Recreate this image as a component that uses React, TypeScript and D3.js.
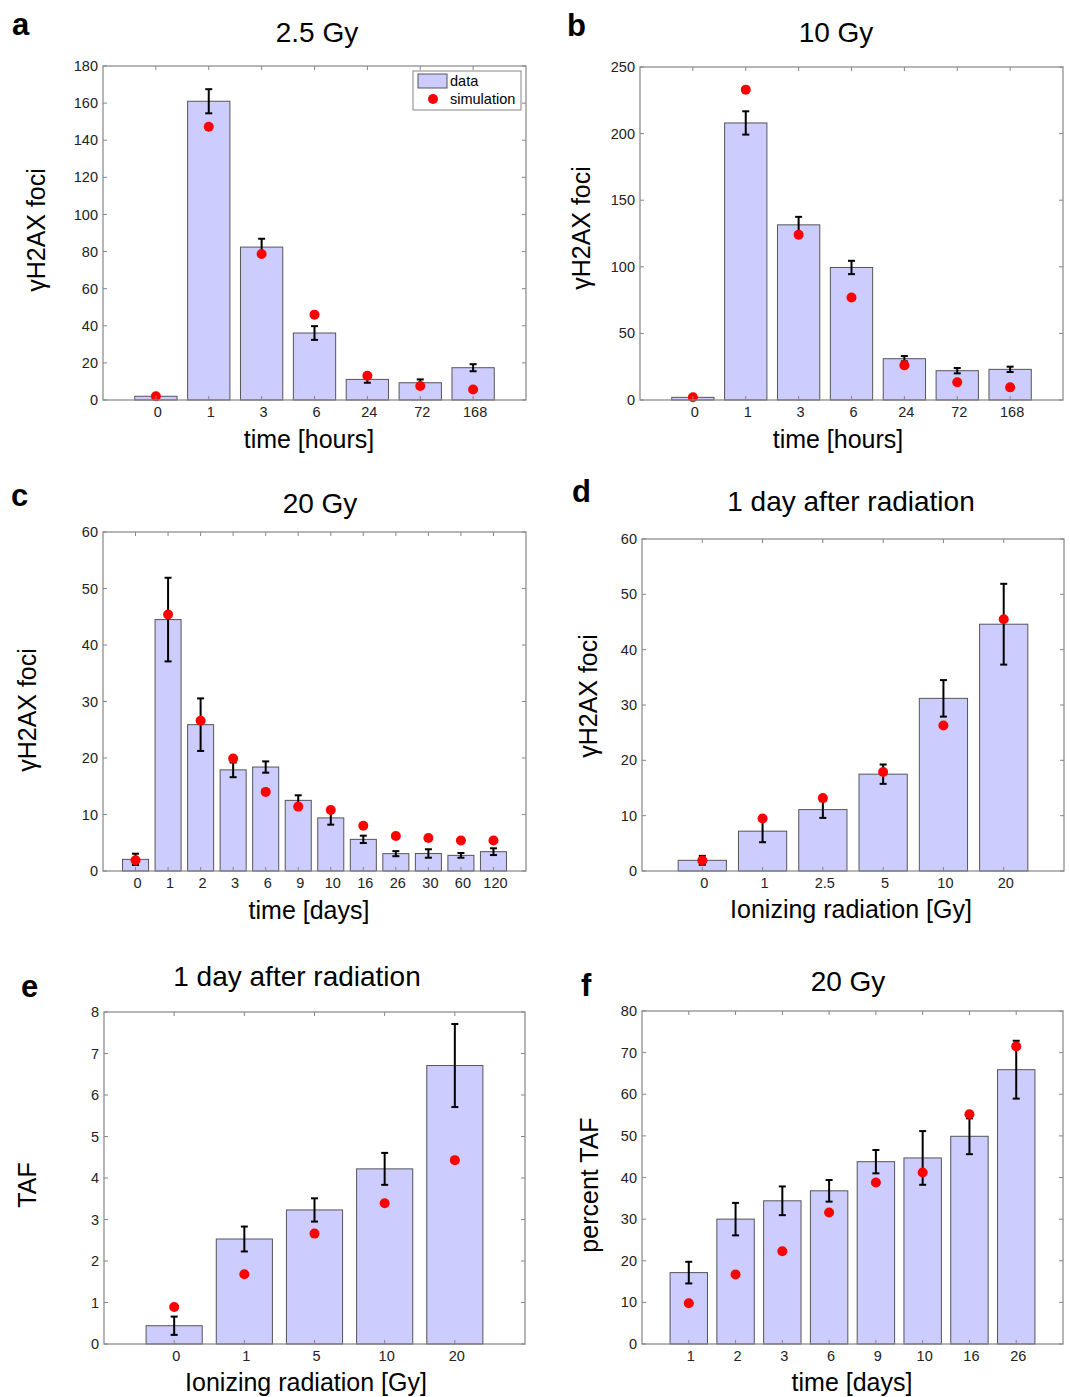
import React from "react";
import * as d3 from "d3";

// panel a: 2.5 Gy, time in hours
const hoursCats = ["0", "1", "3", "6", "24", "72", "168"];
const a_data = [2, 161, 82.4, 36.1, 11.1, 9.3, 17.4];
const a_err = [0, 6.5, 4.5, 3.7, 1.8, 1.8, 1.9];
const a_sim = [2, 147.3, 78.7, 46, 13.1, 7.5, 5.7];

// panel b: 10 Gy, time in hours
const b_data = [2, 208, 131.5, 99.5, 31, 22, 23];
const b_err = [0, 8.75, 6, 5, 2, 2, 2];
const b_sim = [2, 233, 124, 77, 26, 13.3, 9.5];

// panel c: 20 Gy, time in days
const daysCatsC = ["0", "1", "2", "3", "6", "9", "10", "16", "26", "30", "60", "120"];
const c_data = [2.06, 44.5, 25.9, 17.9, 18.4, 12.5, 9.4, 5.6, 3.07, 3.1, 2.77, 3.42];
const c_err = [1, 7.4, 4.65, 1.3, 1.0, 0.9, 1.2, 0.65, 0.45, 0.75, 0.42, 0.6];
const c_sim = [1.9, 45.4, 26.6, 19.9, 14.0, 11.4, 10.8, 8.0, 6.2, 5.85, 5.4, 5.4];

// panel d: foci 1 day after radiation vs dose
const doseCatsD = ["0", "1", "2.5", "5", "10", "20"];
const d_data = [1.93, 7.2, 11.1, 17.5, 31.2, 44.6];
const d_err = [0.8, 2, 1.5, 1.75, 3.3, 7.3];
const d_sim = [1.9, 9.5, 13.2, 17.9, 26.3, 45.5];

// panel e: TAF 1 day after radiation vs dose
const doseCatsE = ["0", "1", "5", "10", "20"];
const e_data = [0.44, 2.53, 3.23, 4.22, 6.71];
const e_err = [0.22, 0.3, 0.28, 0.385, 1.0];
const e_sim = [0.89, 1.68, 2.66, 3.39, 4.43];

// panel f: percent TAF, 20 Gy, days
const daysCatsF = ["1", "2", "3", "6", "9", "10", "16", "26"];
const f_data = [17.15, 30, 34.4, 36.8, 43.8, 44.7, 49.9, 65.9];
const f_err = [2.6, 3.9, 3.45, 2.6, 2.8, 6.45, 4.3, 6.95];
const f_sim = [9.8, 16.7, 22.3, 31.6, 38.8, 41.2, 55.2, 71.5];

const FONT = "'Liberation Sans', Arial, Helvetica, sans-serif";
const AXIS = "#858585";

type PanelProps = {
  letter: string;
  letterPos: [number, number];
  title: string;
  titlePos: [number, number];
  box: { x0: number; x1: number; y0: number; y1: number };
  cats: string[];
  data: number[];
  err: number[];
  sim: number[];
  yMax: number;
  yStep: number;
  ylabel: string;
  ylabelPos: [number, number];
  xlabel: string;
  xlabelPos: [number, number];
  legend?: boolean;
};

const Panel = (p: PanelProps) => {
  const { box } = p;
  const n = p.cats.length;
  const x = d3.scaleLinear().domain([0, n + 1]).range([box.x0, box.x1]);
  const y = d3.scaleLinear().domain([0, p.yMax]).range([box.y1, box.y0]);
  const bw = (x(1) - x(0)) * 0.8;
  const yTicks = d3.range(0, p.yMax + p.yStep / 2, p.yStep);
  const tl = 4;
  const cap = 3.5;

  return (
    <g>
      <text x={p.letterPos[0]} y={p.letterPos[1]} fontSize={31} fontWeight="bold" fontFamily={FONT}>
        {p.letter}
      </text>
      <text x={p.titlePos[0]} y={p.titlePos[1]} fontSize={28} textAnchor="middle" fontFamily={FONT}>
        {p.title}
      </text>

      {/* bars */}
      {p.data.map((v, i) => (
        <rect
          key={"b" + i}
          x={x(i + 1) - bw / 2}
          y={y(v)}
          width={bw}
          height={y(0) - y(v)}
          fill="#ccccff"
          stroke="#555"
          strokeWidth={1}
        />
      ))}

      {/* error bars */}
      {p.data.map((v, i) =>
        p.err[i] > 0 ? (
          <g key={"e" + i} stroke="#000" strokeWidth={2}>
            <line x1={x(i + 1)} x2={x(i + 1)} y1={y(v + p.err[i])} y2={y(v - p.err[i])} />
            <line x1={x(i + 1) - cap} x2={x(i + 1) + cap} y1={y(v + p.err[i])} y2={y(v + p.err[i])} />
            <line x1={x(i + 1) - cap} x2={x(i + 1) + cap} y1={y(v - p.err[i])} y2={y(v - p.err[i])} />
          </g>
        ) : null
      )}

      {/* simulation points */}
      {p.sim.map((v, i) => (
        <circle key={"s" + i} cx={x(i + 1)} cy={y(v)} r={5} fill="#ff0000" />
      ))}

      {/* axes box */}
      <rect x={box.x0} y={box.y0} width={box.x1 - box.x0} height={box.y1 - box.y0} fill="none" stroke={AXIS} strokeWidth={1.2} />

      {/* y ticks */}
      {yTicks.map((t) => (
        <g key={"yt" + t}>
          <line x1={box.x0} x2={box.x0 + tl} y1={y(t)} y2={y(t)} stroke={AXIS} />
          <line x1={box.x1} x2={box.x1 - tl} y1={y(t)} y2={y(t)} stroke={AXIS} />
          <text x={box.x0 - 5} y={y(t)} dy="0.35em" textAnchor="end" fontSize={14.5} fill="#222" fontFamily={FONT}>
            {t}
          </text>
        </g>
      ))}

      {/* x ticks */}
      {p.cats.map((c, i) => (
        <g key={"xt" + i}>
          <line x1={x(i + 1)} x2={x(i + 1)} y1={box.y1} y2={box.y1 - tl} stroke={AXIS} />
          <line x1={x(i + 1)} x2={x(i + 1)} y1={box.y0} y2={box.y0 + tl} stroke={AXIS} />
          <text x={x(i + 1) + 2} y={box.y1 + 17} textAnchor="middle" fontSize={14.5} fill="#222" fontFamily={FONT}>
            {c}
          </text>
        </g>
      ))}

      <text
        transform={`translate(${p.ylabelPos[0]},${p.ylabelPos[1]}) rotate(-90)`}
        textAnchor="middle"
        fontSize={25}
        fontFamily={FONT}
      >
        {p.ylabel}
      </text>
      <text x={p.xlabelPos[0]} y={p.xlabelPos[1]} textAnchor="middle" fontSize={25} fontFamily={FONT}>
        {p.xlabel}
      </text>

      {p.legend && (
        <g fontFamily={FONT} fontSize={14.5}>
          <rect x={413} y={71} width={108} height={39} fill="#fff" stroke={AXIS} />
          <rect x={418} y={74} width={29} height={14} fill="#ccccff" stroke="#555" />
          <text x={450} y={86}>data</text>
          <circle cx={433} cy={99} r={5} fill="#ff0000" />
          <text x={450} y={104}>simulation</text>
        </g>
      )}
    </g>
  );
};

const App = () => {
  return (
    <svg width={1070} height={1397} style={{ position: "absolute", left: 0, top: 0, background: "#fff" }}>
      <rect width={1070} height={1397} fill="#fff" />
      <Panel
        letter="a" letterPos={[12, 35]} title="2.5 Gy" titlePos={[317, 42]}
        box={{ x0: 103, x1: 526, y0: 66, y1: 400 }}
        cats={hoursCats} data={a_data} err={a_err} sim={a_sim} yMax={180} yStep={20}
        ylabel="γH2AX foci" ylabelPos={[45, 230]} xlabel="time [hours]" xlabelPos={[309, 448]}
        legend
      />
      <Panel
        letter="b" letterPos={[567, 36]} title="10 Gy" titlePos={[836, 42]}
        box={{ x0: 640, x1: 1063, y0: 67, y1: 400 }}
        cats={hoursCats} data={b_data} err={b_err} sim={b_sim} yMax={250} yStep={50}
        ylabel="γH2AX foci" ylabelPos={[590, 228]} xlabel="time [hours]" xlabelPos={[838, 448]}
      />
      <Panel
        letter="c" letterPos={[11, 506]} title="20 Gy" titlePos={[320, 513]}
        box={{ x0: 103, x1: 526, y0: 532, y1: 871 }}
        cats={daysCatsC} data={c_data} err={c_err} sim={c_sim} yMax={60} yStep={10}
        ylabel="γH2AX foci" ylabelPos={[36, 710]} xlabel="time [days]" xlabelPos={[309, 919]}
      />
      <Panel
        letter="d" letterPos={[572, 502]} title="1 day after radiation" titlePos={[851, 511]}
        box={{ x0: 642, x1: 1064, y0: 539, y1: 871 }}
        cats={doseCatsD} data={d_data} err={d_err} sim={d_sim} yMax={60} yStep={10}
        ylabel="γH2AX foci" ylabelPos={[597, 696]} xlabel="Ionizing radiation [Gy]" xlabelPos={[851, 918]}
      />
      <Panel
        letter="e" letterPos={[21, 997]} title="1 day after radiation" titlePos={[297, 986]}
        box={{ x0: 104, x1: 525, y0: 1012, y1: 1344 }}
        cats={doseCatsE} data={e_data} err={e_err} sim={e_sim} yMax={8} yStep={1}
        ylabel="TAF" ylabelPos={[36, 1185]} xlabel="Ionizing radiation [Gy]" xlabelPos={[306, 1391]}
      />
      <Panel
        letter="f" letterPos={[581, 996]} title="20 Gy" titlePos={[848, 991]}
        box={{ x0: 642, x1: 1063, y0: 1011, y1: 1344 }}
        cats={daysCatsF} data={f_data} err={f_err} sim={f_sim} yMax={80} yStep={10}
        ylabel="percent TAF" ylabelPos={[598, 1185]} xlabel="time [days]" xlabelPos={[852, 1391]}
      />
    </svg>
  );
};

export default App;
